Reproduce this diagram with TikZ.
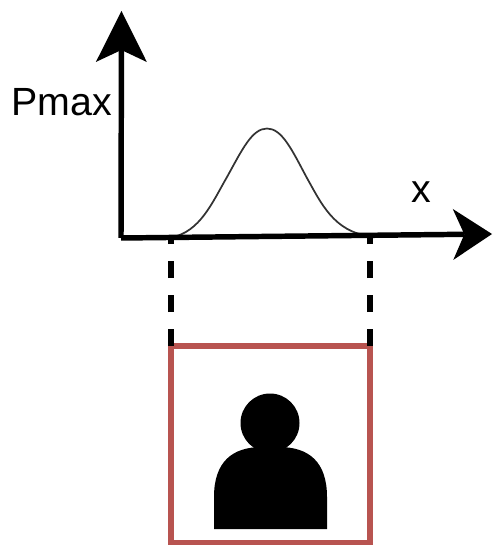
\documentclass[tikz,border=0pt]{standalone}
\usepackage{fontspec}
\setmainfont{Liberation Sans}
\usetikzlibrary{arrows.meta}
\definecolor{myred}{HTML}{B85450}
\tikzset{
	yaxisline/.style={
			line width=4.1pt,
			draw=black,
			-{Stealth[length=38.25pt,width=38.25pt,inset=9pt,line width=0pt]}
		},
	xaxisline/.style={
			line width=4.1pt,
			draw=black,
			-{Stealth[length=29.25pt,width=38.25pt,inset=8.5pt,line width=0pt]}
		},
	guideline/.style={
			line width=4.1pt,
			draw=black,
			dash pattern=on 12.75pt off 12.75pt
		},
	framenode/.style={
			rectangle,
			draw=myred,
			line width=4.1pt,
			outer sep=0pt,
			inner sep=0pt,
			minimum width=149.25pt,
			minimum height=147.75pt
		},
	labelnode/.style={
			inner sep=0pt,
			font=\fontsize{29.5}{34}\selectfont
		},
	headnode/.style={
			circle,
			fill=black,
			inner sep=0pt,
			minimum size=44.25pt
		}
}
\begin{document}
\begin{tikzpicture}[x=0.75pt, y=-0.75pt]
\useasboundingbox (0,0) rectangle (492,545);

\coordinate (origin) at (121,238);
\coordinate (ytip) at (121.5,11);
\coordinate (xtip) at (492,234);
\coordinate (left) at (171,237.5);
\coordinate (right) at (370,236);

\node[framenode] (frame) at (270.5,444.5) {};

\draw[guideline] (frame.north west) -- (left);
\draw[guideline] (frame.north east) -- (right);

\draw[line width=1.3pt, draw=black!80] (left) .. controls (200,232) and (212,203) .. (227,177)
	.. controls (242,150) and (252,128.5) .. (267,128.5)
	.. controls (282,128.5) and (292,150) .. (306.4,177)
	.. controls (321,203) and (334,232) .. (right);

\draw[yaxisline] (origin) -- (ytip);
\draw[xaxisline] (origin) -- (xtip);

\node[labelnode] (pmax) at (61.5,102) {Pmax};
\node[labelnode] (xlabel) at (421,192) {x};

\node[headnode] (head) at (270,423) {};
\fill[black] (214,529) -- (214,497) .. controls (214,462) and (232,447) .. (262,447)
	-- (279,447) .. controls (309,447) and (327,462) .. (327,497) -- (327,529) -- cycle;

\end{tikzpicture}
\end{document}
